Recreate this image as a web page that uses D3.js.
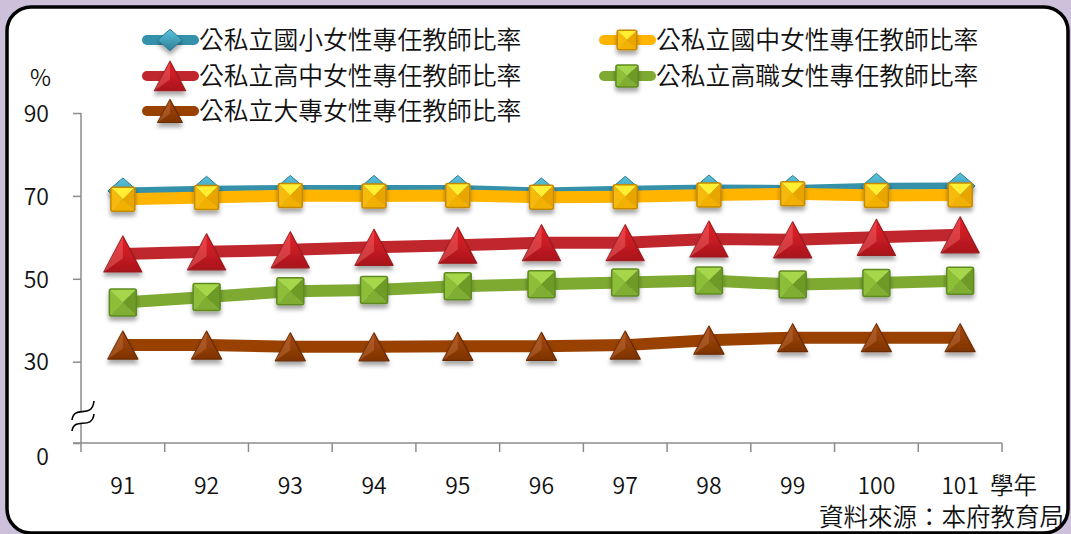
<!DOCTYPE html>
<html><head><meta charset="utf-8">
<script src="https://cdn.jsdelivr.net/npm/d3@7"></script>
<style>
html,body{margin:0;padding:0;background:#CCC0DA;}
svg{display:block;}
text{font-family:"Noto Sans CJK TC","Noto Sans",sans-serif;fill:#111;font-weight:350;}
</style></head>
<body>
<svg id="chart" width="1071" height="534"></svg>
<script>
// ---- data ----
const years = ["91","92","93","94","95","96","97","98","99","100","101"];
const primary = [71.2, 71.6, 71.8, 71.8, 71.8, 71.2, 71.6, 71.9, 71.8, 72.3, 72.4];   // 國小
const junior  = [69.2, 69.6, 70.1, 70.0, 70.1, 69.7, 69.8, 70.2, 70.5, 70.1, 70.2];   // 國中
const senior  = [56.0, 56.5, 57.0, 57.6, 58.1, 58.7, 58.7, 59.6, 59.4, 60.0, 60.6];   // 高中
const vocational = [44.3, 45.6, 47.0, 47.3, 48.2, 48.7, 49.1, 49.6, 48.6, 49.0, 49.5]; // 高職
const college = [34.0, 34.0, 33.6, 33.6, 33.7, 33.7, 34.0, 35.2, 35.8, 35.8, 35.8];  // 大專
const yTicks = [0, 30, 50, 70, 90];
const seriesNames = ["公私立國小女性專任教師比率","公私立國中女性專任教師比率","公私立高中女性專任教師比率","公私立高職女性專任教師比率","公私立大專女性專任教師比率"];
const yUnit = "%";
const xUnit = "學年";
const source = "資料來源：本府教育局";

const svg = d3.select("#chart");
const defs = svg.append("defs");

// frame
svg.append("rect").attr("x",7).attr("y",7).attr("width",1061).attr("height",526)
  .attr("rx",24).attr("ry",24).attr("fill","#fff").attr("stroke","#000").attr("stroke-width",3.5);

// shadow filter
const f = defs.append("filter").attr("id","sh").attr("x","-50%").attr("y","-50%").attr("width","200%").attr("height","200%");
f.append("feDropShadow").attr("dx",0).attr("dy",4).attr("stdDeviation",2).attr("flood-color","#000").attr("flood-opacity",0.35);

function grad(id, c1, c2, vertical=true){
  const g = defs.append("linearGradient").attr("id",id)
    .attr("x1",0).attr("y1",0).attr("x2",vertical?0:1).attr("y2",vertical?1:0);
  g.append("stop").attr("offset","0%").attr("stop-color",c1);
  g.append("stop").attr("offset","100%").attr("stop-color",c2);
}
grad("gRed","#E8202A","#A8161C");
grad("gBrown","#A84A10","#7E3300");
grad("gBlue","#5CC4DE","#2C7E96");

// scales
const x = d3.scaleBand().domain(years).range([81,1002]).paddingInner(0).paddingOuter(0);
const cx = d => x(d) + x.bandwidth()/2;
const y = d3.scaleLinear().domain([0,30,90]).range([443,361.7,113]);

// axes
const axisColor = "#8c8c8c";
const yAxis = svg.append("g").attr("transform","translate(81,0)")
  .call(d3.axisLeft(y).tickValues(yTicks).tickSize(8).tickPadding(24).tickFormat(d3.format("d")));
yAxis.select(".domain").attr("stroke",axisColor).attr("stroke-width",1.5).attr("d","M0,113V443");
yAxis.selectAll(".tick line").attr("stroke",axisColor).attr("stroke-width",1.5);
yAxis.selectAll(".tick text").attr("font-size",23).attr("fill","#111")
  .attr("font-family","'Noto Sans CJK TC',sans-serif").attr("font-weight",400)
  .attr("dy", d => d===0 ? "0.92em" : "0.36em");

// x axis line and ticks at band boundaries
const xg = svg.append("g");
xg.append("line").attr("x1",73).attr("x2",1002).attr("y1",443).attr("y2",443).attr("stroke",axisColor).attr("stroke-width",1.5);
const bounds = years.map(d=>x(d)).concat([x(years[years.length-1])+x.bandwidth()]);
xg.selectAll("line.t").data(bounds).join("line").attr("class","t")
  .attr("x1",d=>d).attr("x2",d=>d).attr("y1",443).attr("y2",452).attr("stroke",axisColor).attr("stroke-width",1.5);
xg.selectAll("text.xl").data(years).join("text").attr("class","xl")
  .attr("x",d=>cx(d)).attr("y",494).attr("text-anchor","middle").attr("font-size",23).attr("font-weight",400).text(d=>d);
svg.append("text").attr("x",990).attr("y",494).attr("font-size",23.5).text(xUnit);
svg.append("text").attr("x",1064).attr("y",526).attr("text-anchor","end").attr("font-size",24.5).text(source);
svg.append("text").attr("x",30).attr("y",86).attr("font-size",23).attr("font-weight",400).text(yUnit);

// axis break symbol
const brk = svg.append("g");
brk.append("path").attr("d","M72,420 C74,404 92,420 94,401 L94,414 C92,431 74,416 72,431 Z").attr("fill","#fff");
brk.append("path").attr("d","M72,420 C74,404 92,420 94,401").attr("fill","none").attr("stroke","#000").attr("stroke-width",1.6);
brk.append("path").attr("d","M72,431 C74,416 92,431 94,414").attr("fill","none").attr("stroke","#000").attr("stroke-width",1.6);

// markers
function square(g, px, py, s, cols){
  const h = s/2;
  const gg = g.append("g").attr("filter","url(#sh)");
  const pts = {tl:[px-h,py-h],tr:[px+h,py-h],br:[px+h,py+h],bl:[px-h,py+h],c:[px,py]};
  const tri = (a,b,c,fill)=>gg.append("path").attr("d",`M${a}L${b}L${c}Z`).attr("fill",fill);
  tri(pts.tl,pts.tr,pts.c,cols.top);
  tri(pts.tr,pts.br,pts.c,cols.right);
  tri(pts.br,pts.bl,pts.c,cols.bottom);
  tri(pts.bl,pts.tl,pts.c,cols.left);
  gg.append("rect").attr("x",px-h).attr("y",py-h).attr("width",s).attr("height",s).attr("rx",2)
    .attr("fill","none").attr("stroke",cols.edge).attr("stroke-width",1.5);
}
function triangle(g, px, py, w, hgt, fillId, edge, light){
  const gg = g.append("g").attr("filter","url(#sh)");
  const top=[px,py-hgt/2], bl=[px-w/2,py+hgt/2], br=[px+w/2,py+hgt/2], c=[px,py+hgt*0.12];
  gg.append("path").attr("d",`M${top}L${br}L${bl}Z`).attr("fill",`url(#${fillId})`).attr("stroke",edge).attr("stroke-width",1.2).attr("stroke-linejoin","round");
  gg.append("path").attr("d",`M${top}L${c}L${bl}Z`).attr("fill",light).attr("opacity",0.35);
}
function diamond(g, px, py, w, hgt){
  const gg = g.append("g").attr("filter","url(#sh)");
  gg.append("path").attr("d",`M${px},${py-hgt/2}L${px+w/2},${py}L${px},${py+hgt/2}L${px-w/2},${py}Z`)
    .attr("fill","url(#gBlue)").attr("stroke","#2A7A90").attr("stroke-width",1);
}
const yellowCols = {top:"#FFEE30",right:"#E8A500",bottom:"#F2B000",left:"#F6BA10",edge:"#C68A00"};
const greenCols  = {top:"#A6D64A",right:"#6E9A28",bottom:"#7FAE30",left:"#8CBE38",edge:"#5E8A22"};

const series = [
  {name:seriesNames[0], vals:primary, color:"#3591AA", width:7, mk:(g,px,py,k)=>diamond(g,px,py,30*k,26*k)},
  {name:seriesNames[1], vals:junior, color:"#FFB400", width:12, mk:(g,px,py,k)=>square(g,px,py,24*k,yellowCols)},
  {name:seriesNames[2], vals:senior, color:"#C0272D", width:12, mk:(g,px,py,k)=>triangle(g,px,py,38*k,36*k,"gRed","#9A1A1E","#ff8080")},
  {name:seriesNames[3], vals:vocational, color:"#7EAA32", width:12, mk:(g,px,py,k)=>square(g,px,py,27*k,greenCols)},
  {name:seriesNames[4], vals:college, color:"#984100", width:12, mk:(g,px,py,k)=>triangle(g,px,py,30*k,28*k,"gBrown","#6A2A00","#d08050")}
];

const line = d3.line().x((d,i)=>cx(years[i])).y(d=>y(d));
const plot = svg.append("g");
series.forEach(s=>{
  const g = plot.append("g");
  g.append("path").attr("d",line(s.vals)).attr("fill","none").attr("stroke",s.color)
    .attr("stroke-width",s.width).attr("stroke-linejoin","round");
  s.vals.forEach((v,i)=>s.mk(g,cx(years[i]),y(v),1));
});

// legend
const legPos = [
  {x:143,y:40},{x:600,y:40},{x:143,y:76},{x:600,y:76},{x:143,y:111}
];
series.forEach((s,i)=>{
  const p = legPos[i];
  const g = svg.append("g");
  g.append("line").attr("x1",p.x+4).attr("x2",p.x+51).attr("y1",p.y).attr("y2",p.y)
    .attr("stroke",s.color).attr("stroke-width",10).attr("stroke-linecap","round");
  s.mk(g,p.x+27,p.y,0.82);
  g.append("text").attr("x",p.x+56).attr("y",p.y).attr("dy","0.36em").attr("font-size",24.8).text(s.name);
});
</script>
</body></html>
